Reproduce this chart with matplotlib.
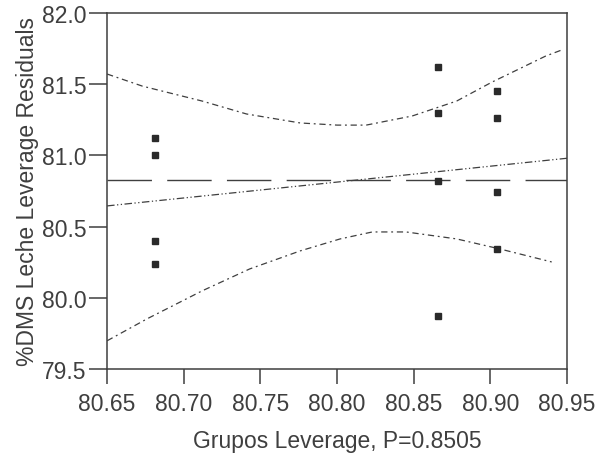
import numpy as np
import matplotlib
matplotlib.use("Agg")
import matplotlib.pyplot as plt

# puntos
grupo_x = [80.681, 80.681, 80.681, 80.681,
           80.866, 80.866, 80.866, 80.866,
           80.904, 80.904, 80.904, 80.904]
residuos = [81.12, 81.00, 80.40, 80.24,
            81.62, 81.30, 80.82, 79.87,
            81.45, 81.26, 80.74, 80.34]

# linea de ajuste y media
ajuste_x = [80.65, 80.95]
ajuste_y = [80.645, 80.98]
media_y = 80.83

# bandas de confianza (leidas punto a punto)
sup_x = [80.650, 80.673, 80.712, 80.741, 80.776, 80.800, 80.819, 80.849, 80.878, 80.901, 80.936, 80.948]
sup_y = [81.572, 81.487, 81.382, 81.291, 81.228, 81.213, 81.213, 81.277, 81.382, 81.515, 81.698, 81.747]
inf_x = [80.650, 80.676, 80.712, 80.743, 80.776, 80.802, 80.823, 80.845, 80.878, 80.906, 80.940]
inf_y = [79.697, 79.851, 80.048, 80.202, 80.329, 80.413, 80.462, 80.462, 80.413, 80.343, 80.251]

xticks = [80.65, 80.70, 80.75, 80.80, 80.85, 80.90, 80.95]
yticks = [79.5, 80.0, 80.5, 81.0, 81.5, 82.0]

gris = "#3f3f3f"
plt.rcParams["font.family"] = ["Liberation Sans", "DejaVu Sans"]

fig = plt.figure(figsize=(5.95, 4.56), dpi=100)
ax = fig.add_axes([0.180, 0.189, 0.773, 0.780])

ax.axhline(media_y, color=gris, lw=1.0, dashes=(32, 11))
ax.plot(ajuste_x, ajuste_y, color=gris, lw=0.9, dashes=(6, 2, 1, 2, 1, 2))
ax.plot(sup_x, sup_y, color=gris, lw=0.9, dashes=(5, 3, 1.5, 3))
ax.plot(inf_x, inf_y, color=gris, lw=0.9, dashes=(5, 3, 1.5, 3))
ax.plot(grupo_x, residuos, ls="none", marker="s", ms=4.2, color="#2a2a2a")

ax.set_xlim(80.65, 80.95)
ax.set_ylim(79.5, 82.0)
ax.set_xticks(xticks)
ax.set_xticklabels([f"{v:.2f}" for v in xticks])
ax.set_yticks(yticks)
ax.set_yticklabels([f"{v:.1f}" for v in yticks])

for s in ax.spines.values():
    s.set_color(gris)
    s.set_linewidth(1.1)
ax.tick_params(axis="x", direction="out", length=11, width=1.1, pad=6,
               labelsize=16.5, colors=gris)
ax.tick_params(axis="y", direction="out", length=13, width=1.1, pad=2,
               labelsize=16.5, colors=gris)

ax.set_xlabel("Grupos Leverage, P=0.8505", fontsize=16.5, color=gris, labelpad=10)
ax.set_ylabel("%DMS Leche Leverage Residuals", fontsize=16.5, color=gris, labelpad=2)

fig.savefig("out.png", dpi=100)
